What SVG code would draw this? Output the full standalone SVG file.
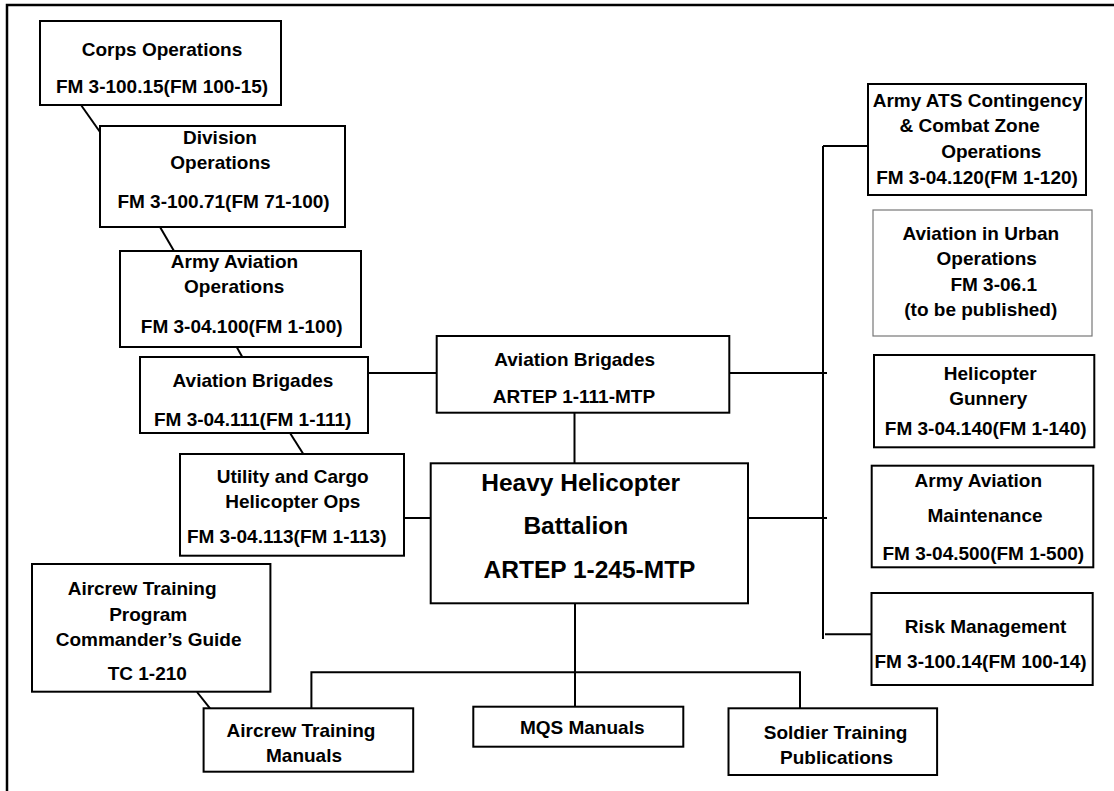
<svg xmlns="http://www.w3.org/2000/svg" width="1114" height="791" viewBox="0 0 1114 791">
  <style>
    .box { fill: #fff; stroke: #000; stroke-width: 2; }
    .box-light { fill: #fff; stroke: #777; stroke-width: 1.2; }
    .lbl { font-family: "Liberation Sans", Arial, sans-serif; font-weight: bold; font-size: 19px; text-anchor: middle; fill: #000; }
    .lbl-big { font-size: 24.5px; }
    .wire { fill: none; stroke: #000; stroke-width: 2; }
    .frame { fill: none; stroke: #000; stroke-width: 2.5; }
  </style>

  <rect width="1114" height="791" fill="#fff"/>
  <!-- page frame (top and left edges) -->
  <path class="frame" d="M7,800 V5 H1120"/>

  <!-- connectors -->
  <g id="connectors">
    <!-- left doctrine chain -->
    <line class="wire" x1="81" y1="105" x2="100" y2="132"/>
    <line class="wire" x1="160" y1="227" x2="174" y2="251"/>
    <line class="wire" x1="236.7" y1="347" x2="242.3" y2="357"/>
    <line class="wire" x1="290" y1="433" x2="303.3" y2="454"/>
    <line class="wire" x1="368" y1="373" x2="436.7" y2="373"/>
    <line class="wire" x1="574.5" y1="412.7" x2="574.5" y2="463.3"/>
    <line class="wire" x1="404" y1="518" x2="430.7" y2="518"/>
    <line class="wire" x1="197" y1="692" x2="210" y2="708.3"/>
    <!-- right-hand bus -->
    <line class="wire" x1="823" y1="146" x2="823" y2="639"/>
    <line class="wire" x1="823" y1="146" x2="868" y2="146"/>
    <line class="wire" x1="729.3" y1="373" x2="827" y2="373"/>
    <line class="wire" x1="748" y1="518" x2="827" y2="518"/>
    <line class="wire" x1="825" y1="634.3" x2="871.5" y2="634.3"/>
    <!-- lower bus -->
    <line class="wire" x1="575" y1="603.3" x2="575" y2="706.7"/>
    <path class="wire" d="M311.4,708.3 V672.3 H800 V708.3"/>
  </g>

  <g id="corps-ops">
    <rect class="box" x="40" y="21" width="241" height="84"/>
    <text class="lbl" x="162" y="56">Corps Operations</text>
    <text class="lbl" x="162" y="93">FM 3-100.15(FM 100-15)</text>
  </g>

  <g id="division-ops">
    <rect class="box" x="100" y="126" width="245" height="101"/>
    <text class="lbl" x="220" y="144">Division</text>
    <text class="lbl" x="220.5" y="169.3">Operations</text>
    <text class="lbl" x="223.5" y="208.3">FM 3-100.71(FM 71-100)</text>
  </g>

  <g id="army-aviation-ops">
    <rect class="box" x="120" y="251" width="241" height="96"/>
    <text class="lbl" x="234.5" y="268.3">Army Aviation</text>
    <text class="lbl" x="234.2" y="293.3">Operations</text>
    <text class="lbl" x="241.7" y="333.3">FM 3-04.100(FM 1-100)</text>
  </g>

  <g id="aviation-brigades-fm">
    <rect class="box" x="140" y="357" width="228" height="76"/>
    <text class="lbl" x="253" y="386.7">Aviation Brigades</text>
    <text class="lbl" x="252.7" y="425.7">FM 3-04.111(FM 1-111)</text>
  </g>

  <g id="utility-cargo">
    <rect class="box" x="180" y="454" width="224" height="101.7"/>
    <text class="lbl" x="292.7" y="483.3">Utility and Cargo</text>
    <text class="lbl" x="292.8" y="508.3">Helicopter Ops</text>
    <text class="lbl" x="286.7" y="542.7">FM 3-04.113(FM 1-113)</text>
  </g>

  <g id="aircrew-program">
    <rect class="box" x="32" y="564" width="238.4" height="127.7"/>
    <text class="lbl" x="142.1" y="595">Aircrew Training</text>
    <text class="lbl" x="148.2" y="620.7">Program</text>
    <text class="lbl" x="148.6" y="646">Commander’s Guide</text>
    <text class="lbl" x="147.3" y="680">TC 1-210</text>
  </g>

  <g id="aviation-brigades-artep">
    <rect class="box" x="436.7" y="336" width="292.6" height="76.7"/>
    <text class="lbl" x="574.7" y="366">Aviation Brigades</text>
    <text class="lbl" x="574" y="403.3">ARTEP 1-111-MTP</text>
  </g>

  <g id="heavy-helicopter-battalion">
    <rect class="box" x="430.7" y="463.3" width="317.3" height="140"/>
    <text class="lbl lbl-big" x="580.7" y="491">Heavy Helicopter</text>
    <text class="lbl lbl-big" x="575.8" y="534">Battalion</text>
    <text class="lbl lbl-big" x="589.5" y="578.3">ARTEP 1-245-MTP</text>
  </g>

  <g id="aircrew-manuals">
    <rect class="box" x="203.6" y="708.3" width="209.6" height="63.4"/>
    <text class="lbl" x="301" y="736.7">Aircrew Training</text>
    <text class="lbl" x="304" y="761.7">Manuals</text>
  </g>

  <g id="mqs-manuals">
    <rect class="box" x="473.3" y="706.7" width="210" height="40"/>
    <text class="lbl" x="582.2" y="734.3">MQS Manuals</text>
  </g>

  <g id="soldier-training">
    <rect class="box" x="728.5" y="708.3" width="208.6" height="66.7"/>
    <text class="lbl" x="835.6" y="739.3">Soldier Training</text>
    <text class="lbl" x="836.5" y="764">Publications</text>
  </g>

  <g id="ats-contingency">
    <rect class="box" x="868" y="84" width="218" height="111"/>
    <text class="lbl" x="977.7" y="106.5">Army ATS Contingency</text>
    <text class="lbl" x="969.7" y="132">&amp; Combat Zone</text>
    <text class="lbl" x="991.3" y="158">Operations</text>
    <text class="lbl" x="977" y="183.5">FM 3-04.120(FM 1-120)</text>
  </g>

  <g id="urban-ops">
    <rect class="box-light" x="873" y="210" width="219" height="126"/>
    <text class="lbl" x="980.8" y="240">Aviation in Urban</text>
    <text class="lbl" x="986.7" y="265">Operations</text>
    <text class="lbl" x="993.7" y="291">FM 3-06.1</text>
    <text class="lbl" x="980.8" y="316">(to be published)</text>
  </g>

  <g id="helicopter-gunnery">
    <rect class="box" x="874" y="355" width="220.3" height="92.3"/>
    <text class="lbl" x="990.3" y="380">Helicopter</text>
    <text class="lbl" x="988.2" y="405">Gunnery</text>
    <text class="lbl" x="985.7" y="435">FM 3-04.140(FM 1-140)</text>
  </g>

  <g id="aviation-maintenance">
    <rect class="box" x="871.7" y="465.7" width="221.6" height="101.6"/>
    <text class="lbl" x="978.3" y="486.7">Army Aviation</text>
    <text class="lbl" x="985" y="521.7">Maintenance</text>
    <text class="lbl" x="983.3" y="560">FM 3-04.500(FM 1-500)</text>
  </g>

  <g id="risk-management">
    <rect class="box" x="871.5" y="593" width="221.2" height="92"/>
    <text class="lbl" x="985.6" y="633.3">Risk Management</text>
    <text class="lbl" x="980.5" y="668.3">FM 3-100.14(FM 100-14)</text>
  </g>
</svg>
